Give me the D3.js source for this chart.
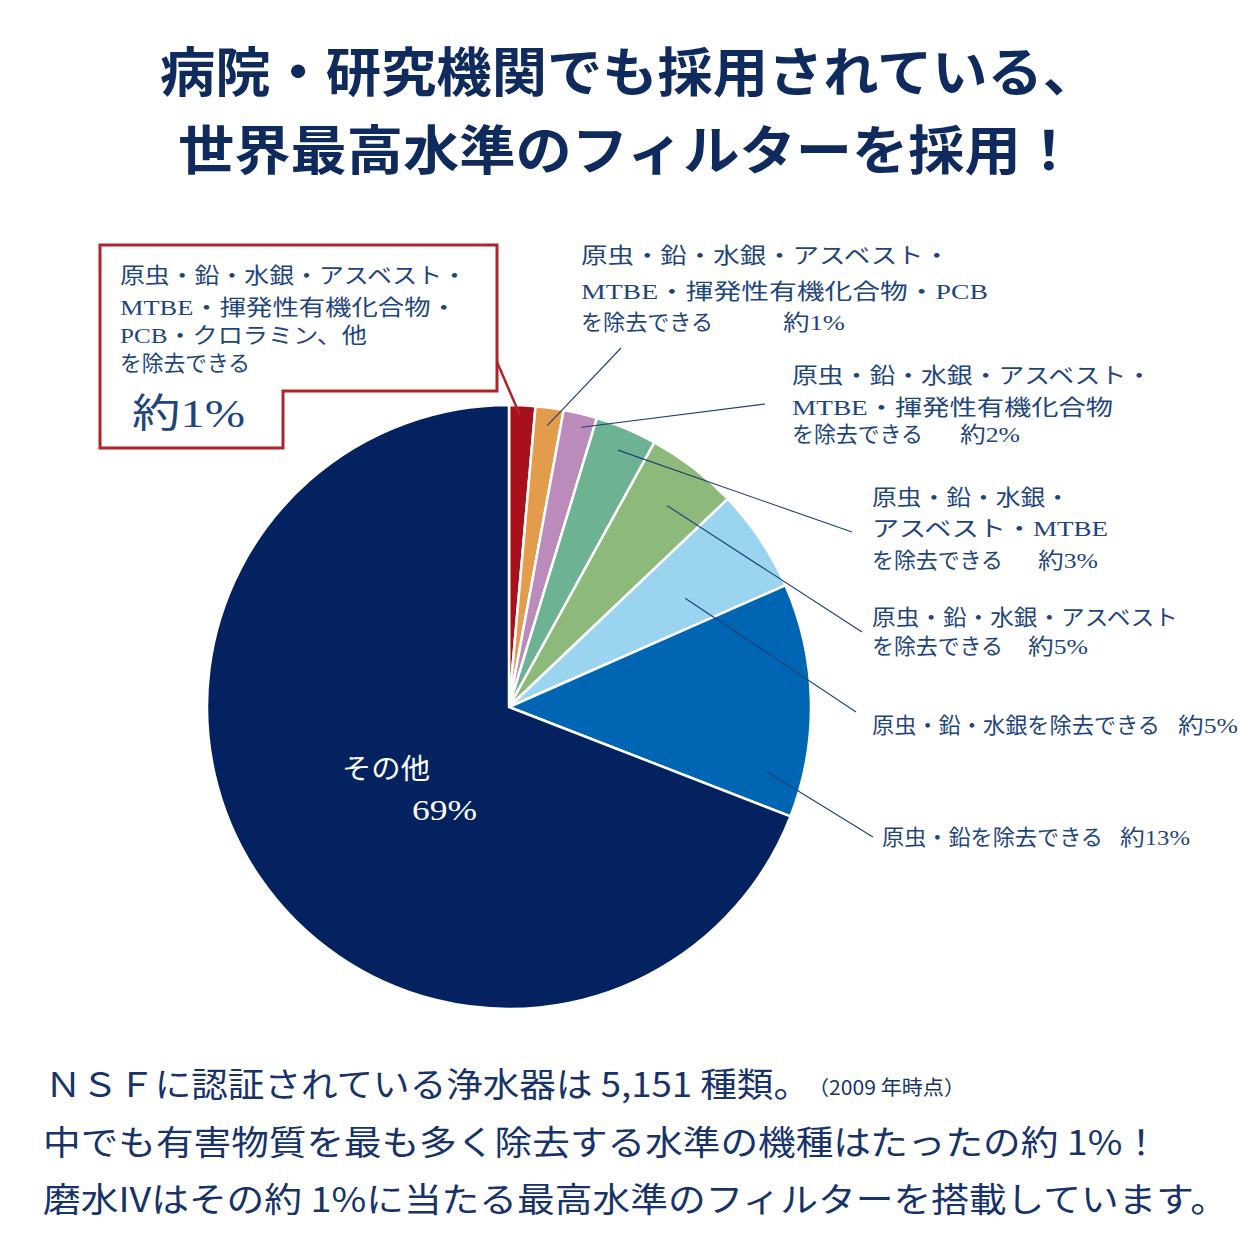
<!DOCTYPE html>
<html>
<head>
<meta charset="utf-8">
<script src="https://cdn.jsdelivr.net/npm/d3@7"></script>
<style>
  html, body { margin: 0; padding: 0; background: #fff; }
  svg { display: block; }
</style>
</head>
<body>
<div id="chart"></div>
<script>
// slice data, clockwise from 12 o'clock
const categories = ["red", "orange", "pink", "teal", "green", "lightblue", "blue", "navy"];
const values = [1.4, 1.5, 1.8, 3.3, 4.9, 5.5, 12.5, 69.1];
const colors = ["#a8111c", "#e39b4c", "#bb8cbb", "#6cb293", "#8db97b", "#9ad4ef", "#0066b3", "#042260"];

const labelLines = [
  ["原虫・鉛・水銀・アスベスト・", "MTBE・揮発性有機化合物・", "PCB・クロラミン、他", "を除去できる"],
  ["原虫・鉛・水銀・アスベスト・", "MTBE・揮発性有機化合物・PCB", "を除去できる"],
  ["原虫・鉛・水銀・アスベスト・", "MTBE・揮発性有機化合物", "を除去できる"],
  ["原虫・鉛・水銀・", "アスベスト・MTBE", "を除去できる"],
  ["原虫・鉛・水銀・アスベスト", "を除去できる"],
  ["原虫・鉛・水銀を除去できる"],
  ["原虫・鉛を除去できる"],
  ["その他"]
];
const percentLabels = ["約1%", "約1%", "約2%", "約3%", "約5%", "約5%", "約13%", "69%"];

const titleLines = ["病院・研究機関でも採用されている、", "世界最高水準のフィルターを採用！"];
const footLines = [
  "ＮＳＦに認証されている浄水器は 5,151 種類。",
  "中でも有害物質を最も多く除去する水準の機種はたったの約 1%！",
  "磨水IVはその約 1%に当たる最高水準のフィルターを搭載しています。"
];
const footNote = "（2009 年時点）";

// layout (positions only)
const width = 1254, height = 1254;
const cx = 509, cy = 707, radius = 302;

const labelLayout = [
  {x: 120, ys: [283, 315, 343, 371], ws: [347, 337, 247, 130], px: 132, py: 427, pw: 113, size: 22, psize: 40},
  {x: 581, ys: [263, 299, 330], ws: [369, 407, 132], px: 783, py: 330, pw: 62, size: 22, psize: 22,
   lead: [621, 348], t: 0.5, r: 284},
  {x: 792, ys: [383, 415, 442], ws: [360, 321, 131], px: 960, py: 442, pw: 60, size: 22, psize: 22,
   lead: [765, 404], t: 0.63, r: 289},
  {x: 872, ys: [505, 536, 568], ws: [198, 236, 131], px: 1038, py: 568, pw: 60, size: 22, psize: 22,
   lead: [852, 532], t: 0.51, r: 279},
  {x: 872, ys: [625, 654], ws: [306, 131], px: 1028, py: 654, pw: 60, size: 22, psize: 22,
   lead: [862, 632], t: 0.53, r: 256},
  {x: 872, ys: [733], ws: [288], px: 1178, py: 733, pw: 60, size: 22, psize: 22,
   lead: [856, 712], t: 0.6, r: 207},
  {x: 882, ys: [845], ws: [221], px: 1120, py: 845, pw: 70, size: 22, psize: 22,
   lead: [873, 837], t: 0.84, r: 265},
  {x: 342, ys: [779], ws: [88], px: 412, py: 820, pw: 65, size: 28, psize: 29}
];

const labelColor = "#1f467c";
const serifFont = "'Liberation Serif', 'Noto Sans CJK JP', serif";
const sansFont = "'Noto Sans CJK JP', sans-serif";

const svg = d3.select("#chart")
  .append("svg")
  .attr("width", width)
  .attr("height", height);

// title
svg.append("g")
  .selectAll("text")
  .data(titleLines)
  .enter()
  .append("text")
    .attr("x", (d, i) => i === 0 ? 160 : 178)
    .attr("y", (d, i) => i === 0 ? 92 : 170)
    .attr("textLength", (d, i) => i === 0 ? 938 : 899)
    .attr("lengthAdjust", "spacingAndGlyphs")
    .style("font-family", sansFont)
    .style("font-weight", 700)
    .style("font-size", "53px")
    .style("fill", "#0f2a5d")
    .text(d => d);

// pie
const pie = d3.pie().sort(null).value(d => d);
const arcs = pie(values);
const arc = d3.arc().innerRadius(0).outerRadius(radius);

const pieG = svg.append("g").attr("transform", `translate(${cx},${cy})`);
pieG.selectAll("path")
  .data(arcs)
  .enter()
  .append("path")
    .attr("d", arc)
    .style("fill", (d, i) => colors[i])
    .style("stroke", "#fff")
    .style("stroke-width", 2.5)
    .style("stroke-linejoin", "round");

// leader lines
function innerPoint(a, t, r) {
  const ang = a.startAngle + (a.endAngle - a.startAngle) * t;
  return [cx + r * Math.sin(ang), cy - r * Math.cos(ang)];
}

labelLayout.forEach((L, i) => {
  if (!L.lead) return;
  const p = innerPoint(arcs[i], L.t, L.r);
  svg.append("line")
    .attr("x1", L.lead[0]).attr("y1", L.lead[1])
    .attr("x2", p[0]).attr("y2", p[1])
    .style("stroke", "#1d3f73")
    .style("stroke-width", 1.1);
});

// red callout box for the top slice
svg.append("path")
  .attr("d", "M100,245 L497,245 L497,391 L283,391 L283,448 L100,448 Z")
  .style("fill", "#fff")
  .style("stroke", "#b0232a")
  .style("stroke-width", 3);

const redTip = innerPoint(arcs[0], 0.41, 293);
svg.append("line")
  .attr("x1", 497).attr("y1", 362)
  .attr("x2", redTip[0]).attr("y2", redTip[1])
  .style("stroke", "#b0232a")
  .style("stroke-width", 2.5);

// labels
labelLayout.forEach((L, i) => {
  const fill = i === 7 ? "#fff" : labelColor;
  const g = svg.append("g");
  g.selectAll("text.line")
    .data(labelLines[i])
    .enter()
    .append("text")
      .attr("class", "line")
      .attr("x", L.x)
      .attr("y", (d, j) => L.ys[j])
      .attr("textLength", (d, j) => L.ws[j])
      .attr("lengthAdjust", "spacingAndGlyphs")
      .style("font-family", serifFont)
      .style("font-size", L.size + "px")
      .style("fill", fill)
      .text(d => d);
  g.append("text")
    .attr("x", L.px)
    .attr("y", L.py)
    .attr("textLength", L.pw)
    .attr("lengthAdjust", "spacingAndGlyphs")
    .style("font-family", serifFont)
    .style("font-size", L.psize + "px")
    .style("fill", fill)
    .text(percentLabels[i]);
});

// footer
svg.append("g")
  .selectAll("text")
  .data(footLines)
  .enter()
  .append("text")
    .attr("x", (d, i) => i === 0 ? 45 : 43)
    .attr("y", (d, i) => [1097, 1155, 1212][i])
    .attr("textLength", (d, i) => [765, 1117, 1185][i])
    .attr("lengthAdjust", "spacingAndGlyphs")
    .style("font-family", sansFont)
    .style("font-size", "34px")
    .style("fill", "#17336a")
    .text(d => d);

svg.append("text")
  .attr("x", 808)
  .attr("y", 1095)
  .attr("textLength", 157)
  .attr("lengthAdjust", "spacingAndGlyphs")
  .style("font-family", sansFont)
  .style("font-size", "20px")
  .style("fill", "#17336a")
  .text(footNote);
</script>
</body>
</html>
